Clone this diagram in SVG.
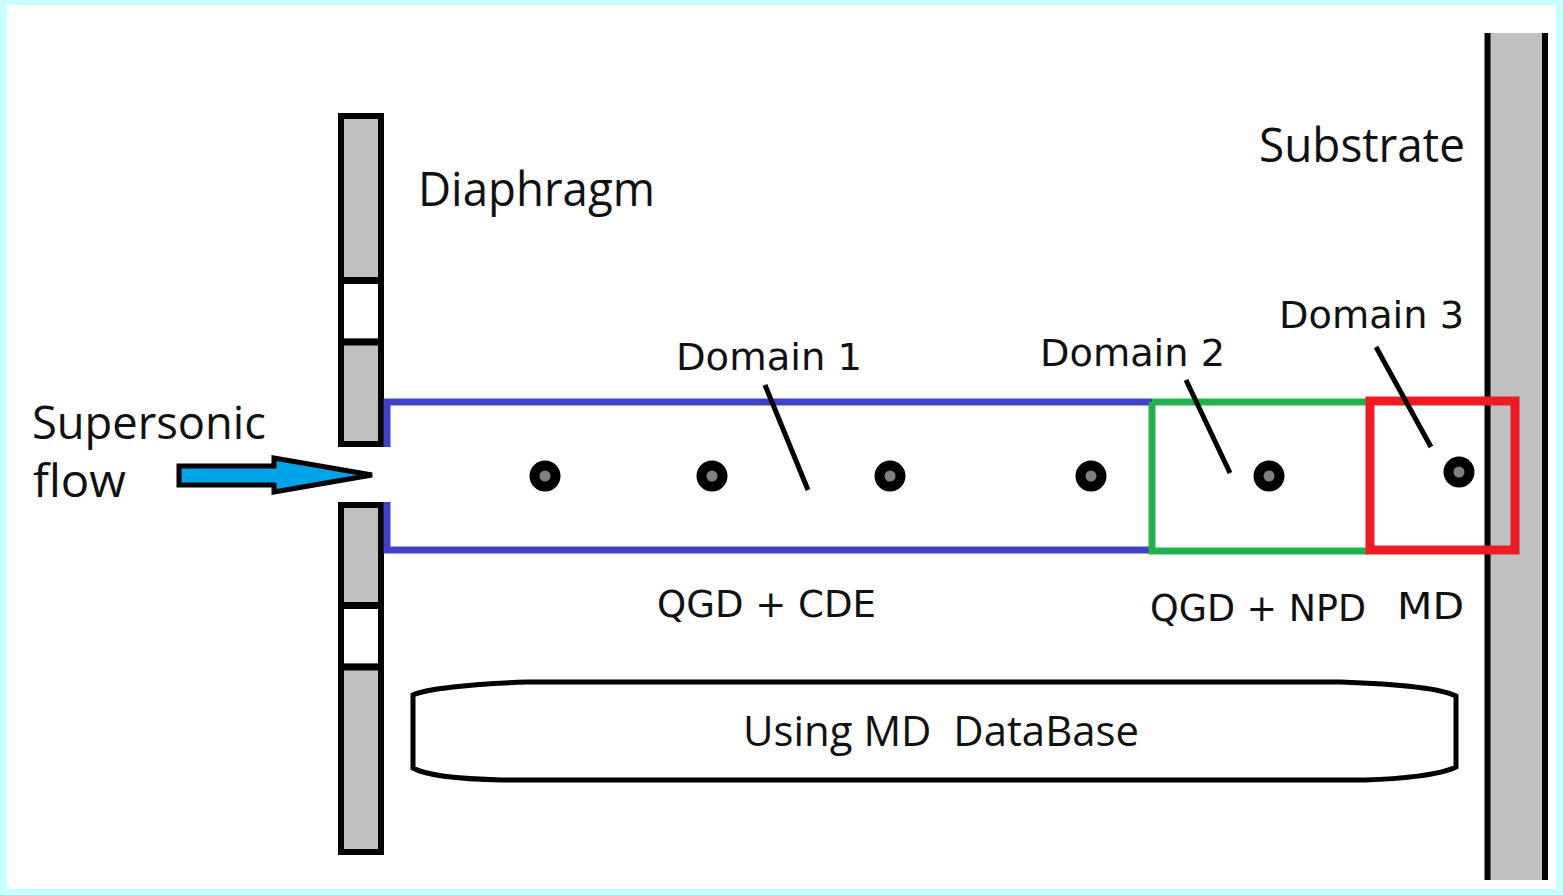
<svg xmlns="http://www.w3.org/2000/svg" width="1563" height="895" viewBox="0 0 1563 895">
<style>
.t{font-family:"Open Sans","Noto Sans",sans-serif;fill:#111;}
.d{font-family:"DejaVu Sans","Noto Sans",sans-serif;font-size:38px;fill:#111;}
.gray{fill:#c0c0c0;stroke:#000;stroke-width:6;}
.div{stroke:#000;stroke-width:7;}
.dot{fill:#808080;stroke:#000;stroke-width:10;}
.lead{stroke:#000;stroke-width:5;fill:none;}
</style>
<rect x="0" y="0" width="1563" height="895" fill="#c8ffff"/>
<rect x="7" y="5" width="1549" height="884" fill="#fff"/>
<g id="diaphragm">
<rect class="gray" x="341" y="116" width="40" height="328"/>
<rect x="344" y="284" width="34" height="54" fill="#fff"/>
<line class="div" x1="341" y1="280.5" x2="381" y2="280.5"/>
<line class="div" x1="341" y1="342" x2="381" y2="342"/>
<rect class="gray" x="341" y="505" width="40" height="347"/>
<rect x="344" y="609" width="34" height="54" fill="#fff"/>
<line class="div" x1="341" y1="605.5" x2="381" y2="605.5"/>
<line class="div" x1="341" y1="667" x2="381" y2="667"/>
</g>
<g id="substrate">
<rect x="1487" y="33" width="58" height="847" fill="#c0c0c0"/>
<line x1="1487.5" y1="33" x2="1487.5" y2="880" stroke="#000" stroke-width="6"/>
<line x1="1545" y1="33" x2="1545" y2="880" stroke="#000" stroke-width="6"/>
</g>
<g id="domain1">
<path d="M387 447 V402 H1152 M387 502 V550 H1152" fill="none" stroke="#4040c8" stroke-width="7"/>
</g>
<g id="domain2">
<path d="M1152 402 H1368 M1152 402 V551 H1368" fill="none" stroke="#22b14c" stroke-width="7"/>
</g>
<g id="domain3">
<rect x="1370" y="401" width="145" height="149" fill="none" stroke="#ed1c24" stroke-width="9"/>
</g>
<g id="flow-arrow">
<polygon points="179,466 274,466 274,458 372,475 274,492 274,485 179,485" fill="#00a2e8" stroke="#000" stroke-width="5" stroke-linejoin="miter"/>
</g>
<g id="points">
<circle class="dot" cx="545" cy="476" r="10.5"/>
<circle class="dot" cx="712" cy="476" r="10.5"/>
<circle class="dot" cx="890" cy="476" r="10.5"/>
<circle class="dot" cx="1091" cy="476" r="10.5"/>
<circle class="dot" cx="1269" cy="476" r="10.5"/>
<circle class="dot" cx="1459" cy="472" r="10.5"/>
</g>
<g id="connectors">
<line class="lead" x1="765" y1="385" x2="808" y2="490"/>
<line class="lead" x1="1186" y1="380" x2="1230" y2="473"/>
<line class="lead" x1="1376" y1="347" x2="1431" y2="447"/>
</g>
<g id="database">
<path d="M527 682 H1340 C1400 684 1440 688 1456 696 V767 C1440 775 1400 779 1365 780 H502 C460 779 425 775 413 768 V695 C425 689 470 684 527 682 Z" fill="#fff" stroke="#000" stroke-width="5"/>
<text class="t" x="743" y="746" font-size="42" textLength="396" lengthAdjust="spacingAndGlyphs" xml:space="preserve">Using MD  DataBase</text>
</g>
<g id="labels">
<text class="t" x="418" y="206" font-size="47" textLength="237" lengthAdjust="spacingAndGlyphs">Diaphragm</text>
<text class="t" x="32" y="439" font-size="45" textLength="234" lengthAdjust="spacingAndGlyphs">Supersonic</text>
<text class="t" x="33" y="497" font-size="45" textLength="93" lengthAdjust="spacingAndGlyphs">flow</text>
<text class="t" x="1259" y="162" font-size="47" textLength="206" lengthAdjust="spacingAndGlyphs">Substrate</text>
<text class="d" x="676" y="370" textLength="186" lengthAdjust="spacingAndGlyphs">Domain 1</text>
<text class="d" x="1040" y="366" textLength="185" lengthAdjust="spacingAndGlyphs">Domain 2</text>
<text class="d" x="1279" y="328" textLength="185" lengthAdjust="spacingAndGlyphs">Domain 3</text>
<text class="d" x="657" y="617" textLength="219" lengthAdjust="spacingAndGlyphs">QGD + CDE</text>
<text class="d" x="1150" y="621" textLength="216" lengthAdjust="spacingAndGlyphs">QGD + NPD</text>
<text class="d" x="1397" y="619" textLength="67" lengthAdjust="spacingAndGlyphs">MD</text>
</g>
</svg>
